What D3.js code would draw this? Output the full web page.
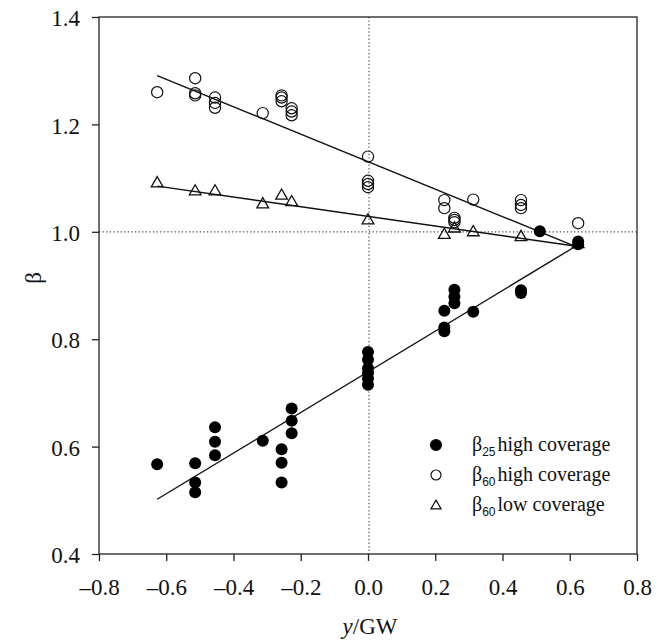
<!DOCTYPE html>
<html>
<head>
<meta charset="utf-8">
<script src="https://cdn.jsdelivr.net/npm/d3@7"></script>
<style>
  body { margin: 0; background: #fff; }
</style>
</head>
<body>
<div id="canvas"></div>
<script>
"use strict"

/* Data: y/GW position and beta values */
let b25X = [-0.627, -0.514, -0.514, -0.514, -0.455, -0.455, -0.455, -0.313, -0.257, -0.257, -0.257,
    -0.227, -0.227, -0.227, 0, 0, 0, 0, 0, 0, 0.227, 0.227, 0.227, 0.257, 0.257, 0.257,
    0.313, 0.455, 0.455, 0.511, 0.625, 0.625];
let b25Y = [0.567, 0.569, 0.533, 0.515, 0.636, 0.609, 0.584, 0.611, 0.595, 0.570, 0.533,
    0.671, 0.648, 0.625, 0.776, 0.762, 0.746, 0.737, 0.727, 0.715, 0.853, 0.822, 0.815, 0.892, 0.879, 0.867,
    0.851, 0.891, 0.886, 1.001, 0.982, 0.977];

let b60hX = [-0.627, -0.514, -0.514, -0.514, -0.455, -0.455, -0.455, -0.313, -0.257, -0.257, -0.257,
    -0.227, -0.227, -0.227, 0, 0, 0, 0, 0.227, 0.227, 0.257, 0.257, 0.257, 0.313,
    0.455, 0.455, 0.455, 0.625];
let b60hY = [1.260, 1.286, 1.258, 1.254, 1.250, 1.240, 1.231, 1.221, 1.254, 1.250, 1.243,
    1.230, 1.224, 1.217, 1.140, 1.095, 1.089, 1.083, 1.059, 1.044, 1.026, 1.022, 1.018, 1.060,
    1.059, 1.050, 1.044, 1.016];

let b60lX = [-0.627, -0.514, -0.455, -0.313, -0.257, -0.227, 0, 0.227, 0.257, 0.313, 0.455, 0.625];
let b60lY = [1.090, 1.075, 1.075, 1.051, 1.067, 1.055, 1.021, 0.994, 1.006, 0.999, 0.990, 0.977];

/* Regression line end points */
let fitX = [-0.627, 0.62];
let fit25Y = [0.502, 0.974];
let fit60hY = [1.291, 0.972];
let fit60lY = [1.085, 0.973];

let xTicks = [-0.8, -0.6, -0.4, -0.2, 0, 0.2, 0.4, 0.6, 0.8];
let yTicks = [0.4, 0.6, 0.8, 1.0, 1.2, 1.4];

/* Drawing configuration */
let svgWidth = 665;
let svgHeight = 641;
let plotLeft = 99, plotRight = 637, plotTop = 17, plotBottom = 554;
let serif = "'Liberation Serif', 'Times New Roman', serif";

let svg = d3.select("#canvas")
    .append("svg")
    .attr("width", svgWidth)
    .attr("height", svgHeight);

let xScale = d3.scaleLinear()
    .domain([-0.8, 0.8])
    .range([plotLeft, plotRight]);

let yScale = d3.scaleLinear()
    .domain([0.4, 1.4])
    .range([plotBottom, plotTop]);

/* reference lines x = 0 and beta = 1 */
svg.append("line")
    .attr("x1", xScale(0) + 1).attr("x2", xScale(0) + 1)
    .attr("y1", plotTop).attr("y2", plotBottom)
    .attr("stroke", "#444")
    .attr("stroke-width", 1.2)
    .attr("stroke-dasharray", "1.2,2.4");

svg.append("line")
    .attr("x1", plotLeft).attr("x2", plotRight)
    .attr("y1", yScale(1)).attr("y2", yScale(1))
    .attr("stroke", "#444")
    .attr("stroke-width", 1.2)
    .attr("stroke-dasharray", "1.2,2.4");

/* axes */
let fmt = d => (d < 0 ? "\u2013" : "") + d3.format(".1f")(Math.abs(d));

let xAxis = svg.append("g")
    .attr("transform", "translate(0," + plotBottom + ")")
    .call(d3.axisBottom(xScale).tickValues(xTicks).tickFormat(fmt)
        .tickSize(7).tickSizeOuter(0).tickPadding(18));

let yAxis = svg.append("g")
    .attr("transform", "translate(" + plotLeft + ",0)")
    .call(d3.axisLeft(yScale).tickValues(yTicks).tickFormat(d3.format(".1f"))
        .tickSize(7).tickSizeOuter(0).tickPadding(12));

svg.selectAll(".domain").remove();
svg.selectAll(".tick line").attr("stroke", "#222").attr("stroke-width", 1.3);
svg.selectAll(".tick text")
    .attr("font-size", 23)
    .attr("fill", "#111");
yAxis.selectAll(".tick text").attr("dy", "0.38em");

/* plot frame */
svg.append("rect")
    .attr("x", plotLeft).attr("y", plotTop)
    .attr("width", plotRight - plotLeft).attr("height", plotBottom - plotTop)
    .attr("fill", "none")
    .attr("stroke", "#222")
    .attr("stroke-width", 1.3);

/* fitted lines */
[fit25Y, fit60hY, fit60lY].forEach(function (ys) {
    svg.append("line")
        .attr("x1", xScale(fitX[0])).attr("y1", yScale(ys[0]))
        .attr("x2", xScale(fitX[1])).attr("y2", yScale(ys[1]))
        .attr("stroke", "#111")
        .attr("stroke-width", 1.4);
});

/* triangles: beta60 low coverage */
let tri = d3.symbol().type(d3.symbolTriangle).size(60);
svg.append("g").selectAll("path")
    .data(d3.range(b60lX.length))
    .join("path")
    .attr("d", tri)
    .attr("transform", i => "translate(" + xScale(b60lX[i]) + "," + yScale(b60lY[i]) + ")")
    .attr("fill", "none")
    .attr("stroke", "#111")
    .attr("stroke-width", 1.3);

/* open circles: beta60 high coverage */
svg.append("g").selectAll("circle")
    .data(d3.range(b60hX.length))
    .join("circle")
    .attr("r", 5.6)
    .attr("cx", i => xScale(b60hX[i]))
    .attr("cy", i => yScale(b60hY[i]))
    .attr("fill", "none")
    .attr("stroke", "#111")
    .attr("stroke-width", 1.2);

/* filled circles: beta25 high coverage */
svg.append("g").selectAll("circle")
    .data(d3.range(b25X.length))
    .join("circle")
    .attr("r", 6)
    .attr("cx", i => xScale(b25X[i]))
    .attr("cy", i => yScale(b25Y[i]))
    .attr("fill", "#000");

/* legend */
let legendRows = [
    {sub: "25", txt: "high coverage", kind: "filled"},
    {sub: "60", txt: "high coverage", kind: "open"},
    {sub: "60", txt: "low coverage", kind: "tri"}
];
let legend = svg.append("g");
legendRows.forEach(function (row, i) {
    let cy = 445 + i * 30;
    if (row.kind === "tri") {
        legend.append("path")
            .attr("d", d3.symbol().type(d3.symbolTriangle).size(45)())
            .attr("transform", "translate(436," + (cy + 1) + ")")
            .attr("fill", "none").attr("stroke", "#111").attr("stroke-width", 1.2);
    } else {
        legend.append("circle")
            .attr("cx", 436).attr("cy", cy).attr("r", row.kind === "filled" ? 5.5 : 5)
            .attr("fill", row.kind === "filled" ? "#000" : "none")
            .attr("stroke", "#111").attr("stroke-width", 1.2);
    }
    let t = legend.append("text")
        .attr("x", 472).attr("y", cy + 6)
        .attr("font-size", 20)
        .attr("fill", "#111");
    t.append("tspan").text("\u03b2");
    t.append("tspan")
        .attr("class", "sub")
        .attr("font-size", 12)
        .attr("dy", 5)
        .text(row.sub);
    t.append("tspan").attr("dy", -5).attr("dx", 2).text(row.txt);
});

/* axis titles */
let xLabel = svg.append("text")
    .attr("x", 370)
    .attr("y", 634)
    .attr("text-anchor", "middle")
    .attr("font-size", 23)
    .attr("fill", "#111");
xLabel.append("tspan").attr("font-style", "italic").text("y");
xLabel.append("tspan").text("/GW");

svg.append("text")
    .attr("transform", "translate(33,278) rotate(-90)")
    .attr("text-anchor", "middle")
    .attr("font-size", 23)
    .attr("dy", "0.35em")
    .attr("fill", "#111")
    .text("\u03b2");

/* fonts: Times-like everywhere, sans subscripts */
svg.selectAll("text").style("font-family", serif);
svg.selectAll("tspan.sub").style("font-family", "'Liberation Sans', Arial, sans-serif");
</script>
</body>
</html>
